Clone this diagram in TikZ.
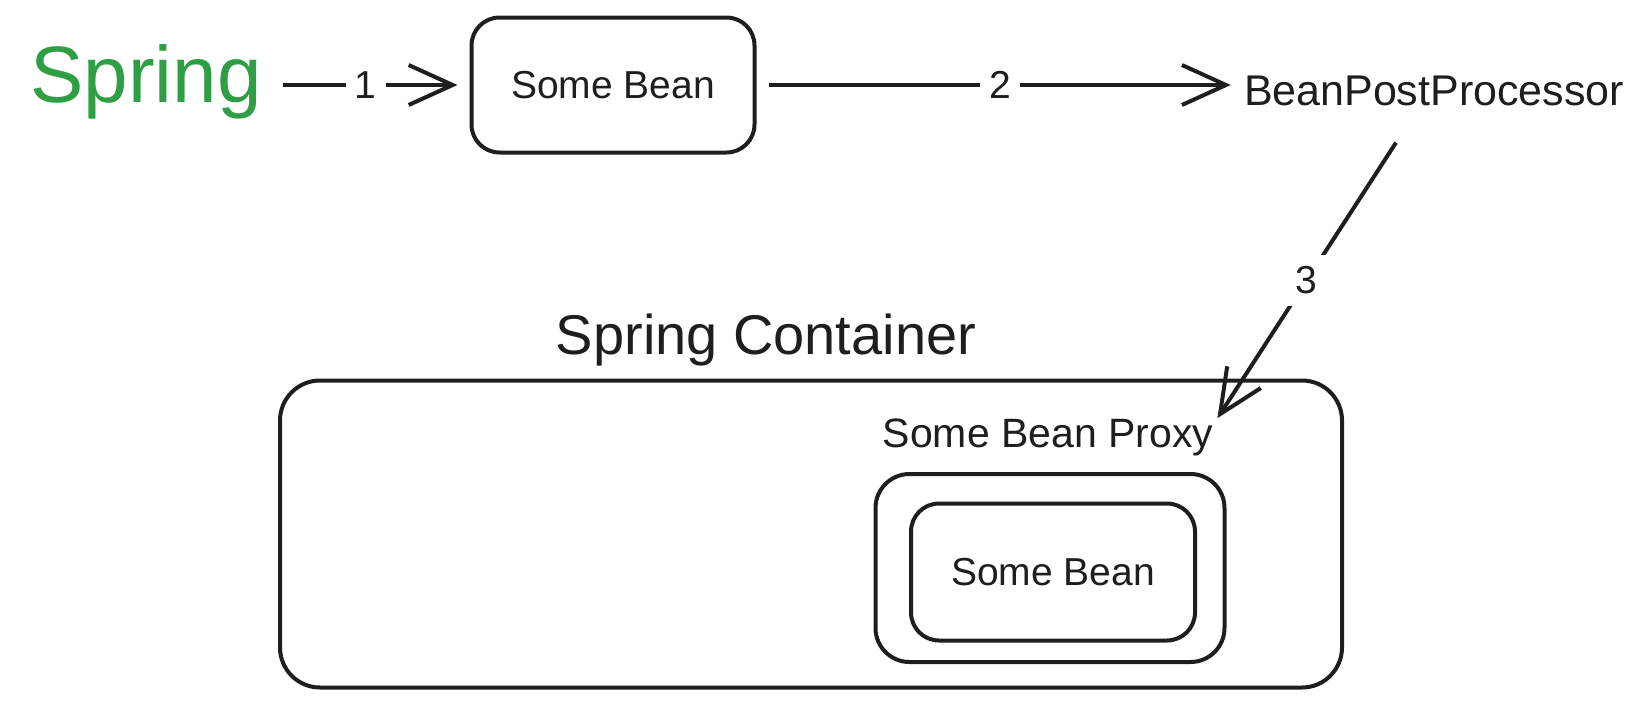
\documentclass[tikz,border=0pt]{standalone}
\usepackage{fontspec}
\setmainfont{Liberation Sans}
\usetikzlibrary{arrows.meta}
\definecolor{ink}{HTML}{1E1E1E}
\definecolor{springgreen}{HTML}{2F9E44}
\begin{document}
\begin{tikzpicture}[x=1pt,y=-1pt,
    box/.style={draw=ink,line width=4pt,rounded corners=28pt,inner sep=0pt},
    txt/.style={text=ink,font=\fontsize{39}{46}\selectfont,inner sep=0pt},
    arr/.style={draw=ink,line width=4pt,-{Straight Barb[length=44pt,width=40pt]}},
    lbl/.style={txt,fill=white,inner sep=9pt}]
\useasboundingbox (0,0) rectangle (1652,718); % page size

% top row
\node[text=springgreen,font=\fontsize{80}{94}\selectfont,inner sep=0pt,anchor=base] (spring) at (146,102) {Spring};
\node[box,txt,minimum width=283pt,minimum height=135pt] (bean) at (613,85) {Some Bean};
\node[txt,font=\fontsize{43}{50}\selectfont,anchor=base] (bpp) at (1434,105) {BeanPostProcessor};

% container
\node[txt,font=\fontsize{56}{66}\selectfont,anchor=base] (containerlbl) at (766,354) {Spring Container};
\node[box,rounded corners=40pt,minimum width=1062pt,minimum height=307pt] (container) at (811,534) {};
\node[txt,font=\fontsize{41}{48}\selectfont,anchor=base] (proxylbl) at (1048,447) {Some Bean Proxy};
\node[box,rounded corners=34pt,minimum width=349pt,minimum height=188pt] (proxy) at (1050,568) {};
\node[box,txt,minimum width=284pt,minimum height=137pt] (inner) at (1053,572) {Some Bean};

% arrows
\draw[arr,shorten <=21pt,shorten >=12pt] (spring.east |- bean.west) -- node[lbl]{1} (bean.west);
\draw[arr,shorten <=12pt,shorten >=13pt] (bean.east) -- node[lbl]{2} (bpp.west |- bean.east);
\draw[arr] ([xshift=-38pt,yshift=-37pt]bpp.south) -- node[lbl,inner sep=12pt]{3} ([xshift=4pt]proxylbl.north east);

\end{tikzpicture}
\end{document}
